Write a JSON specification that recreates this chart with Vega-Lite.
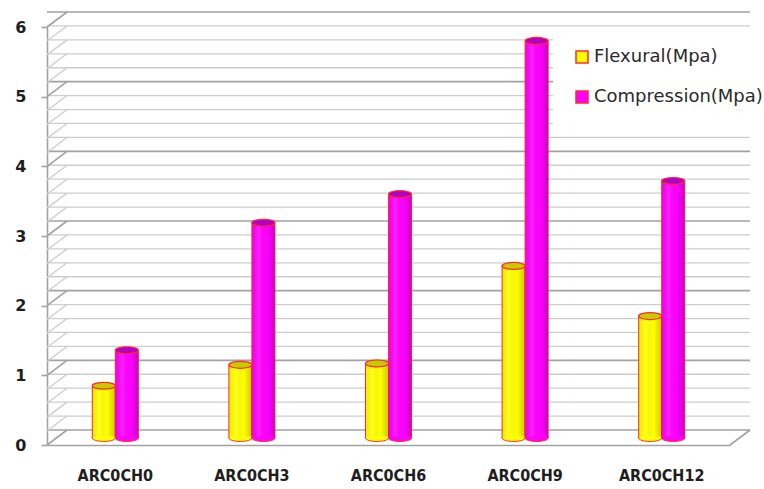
{
  "$schema": "https://vega.github.io/schema/vega-lite/v6.json",
  "width": 683,
  "height": 418,
  "autosize": {"type": "none"},
  "padding": {"left": 47, "top": 27, "right": 34, "bottom": 44},
  "background": "white",
  "config": {"view": {"stroke": null}, "font": "DejaVu Sans"},
  "datasets": {
    "strength": [
      {"sample": "ARC0CH0", "series": "Flexural(Mpa)", "value": 0.75},
      {"sample": "ARC0CH0", "series": "Compression(Mpa)", "value": 1.26},
      {"sample": "ARC0CH3", "series": "Flexural(Mpa)", "value": 1.05},
      {"sample": "ARC0CH3", "series": "Compression(Mpa)", "value": 3.09},
      {"sample": "ARC0CH6", "series": "Flexural(Mpa)", "value": 1.07},
      {"sample": "ARC0CH6", "series": "Compression(Mpa)", "value": 3.5},
      {"sample": "ARC0CH9", "series": "Flexural(Mpa)", "value": 2.47},
      {"sample": "ARC0CH9", "series": "Compression(Mpa)", "value": 5.7},
      {"sample": "ARC0CH12", "series": "Flexural(Mpa)", "value": 1.75},
      {"sample": "ARC0CH12", "series": "Compression(Mpa)", "value": 3.69}
    ],
    "grid": [
      {"v": 0}, {"v": 0.2}, {"v": 0.4}, {"v": 0.6}, {"v": 0.8},
      {"v": 1}, {"v": 1.2}, {"v": 1.4}, {"v": 1.6}, {"v": 1.8},
      {"v": 2}, {"v": 2.2}, {"v": 2.4}, {"v": 2.6}, {"v": 2.8},
      {"v": 3}, {"v": 3.2}, {"v": 3.4}, {"v": 3.6}, {"v": 3.8},
      {"v": 4}, {"v": 4.2}, {"v": 4.4}, {"v": 4.6}, {"v": 4.8},
      {"v": 5}, {"v": 5.2}, {"v": 5.4}, {"v": 5.6}, {"v": 5.8},
      {"v": 6}
    ],
    "floor": [{"v": 0}]
  },
  "layer": [
    {
      "description": "back wall gridlines, pushed back in depth; carries the value axis",
      "data": {"name": "grid"},
      "mark": {"type": "rule", "xOffset": 20, "x2Offset": 20, "yOffset": -15},
      "encoding": {
        "y": {
          "field": "v", "type": "quantitative",
          "scale": {"domain": [0, 6], "nice": false},
          "axis": {
            "title": null, "values": [0, 1, 2, 3, 4, 5, 6], "format": "d", "grid": false,
            "labelFontWeight": "bold", "labelFontSize": 16, "labelColor": "#1e1e1e",
            "labelPadding": 15, "tickSize": 6, "tickColor": "#a2a2a2", "tickWidth": 1.6,
            "domainColor": "#a2a2a2", "domainWidth": 1.6
          }
        },
        "color": {"condition": {"test": "datum.v % 1 === 0", "value": "#a2a2a2"}, "value": "#cdcdcd"},
        "strokeWidth": {"condition": {"test": "datum.v % 1 === 0", "value": 1.6}, "value": 1.3}
      }
    },
    {
      "description": "side wall: short diagonals from the front axis to the back wall",
      "data": {"name": "grid"},
      "mark": {"type": "rule", "x2Offset": 20, "y2Offset": -15},
      "encoding": {
        "x": {"value": 0},
        "x2": {"value": 0},
        "y": {"field": "v", "type": "quantitative"},
        "y2": {"field": "v"},
        "color": {"condition": {"test": "datum.v % 1 === 0", "value": "#a2a2a2"}, "value": "#cdcdcd"},
        "strokeWidth": {"condition": {"test": "datum.v % 1 === 0", "value": 1.6}, "value": 1.3}
      }
    },
    {
      "description": "right edge of the floor",
      "data": {"name": "floor"},
      "mark": {"type": "rule", "x2Offset": 20, "y2Offset": -15, "color": "#a2a2a2", "strokeWidth": 1.6},
      "encoding": {
        "x": {"value": {"expr": "width"}},
        "x2": {"value": {"expr": "width"}},
        "y": {"field": "v", "type": "quantitative"},
        "y2": {"field": "v"}
      }
    },
    {
      "description": "cylinder bodies",
      "data": {"name": "strength"},
      "mark": {"type": "bar", "yOffset": -7, "y2Offset": -7, "stroke": "#ff2a2a", "strokeWidth": 1},
      "encoding": {
        "x": {
          "field": "sample", "type": "nominal",
          "sort": ["ARC0CH0", "ARC0CH3", "ARC0CH6", "ARC0CH9", "ARC0CH12"],
          "scale": {"paddingInner": 0.663, "paddingOuter": 0.3315},
          "axis": {
            "title": null, "labelAngle": 0, "ticks": false,
            "labelFont": "DejaVu Sans Condensed, DejaVu Sans", "labelFontWeight": "bold",
            "labelFontSize": 16, "labelColor": "#1e1e1e", "labelPadding": 22,
            "domainColor": "#a2a2a2", "domainWidth": 1.6
          }
        },
        "xOffset": {"field": "series", "type": "nominal", "sort": ["Flexural(Mpa)", "Compression(Mpa)"]},
        "y": {"field": "value", "type": "quantitative"},
        "color": {
          "field": "series", "type": "nominal",
          "scale": {"domain": ["Flexural(Mpa)", "Compression(Mpa)"], "range": ["#ffff00", "#ff00ff"]},
          "legend": {
            "title": null, "orient": "none", "legendX": 506, "legendY": 1,
            "padding": 20, "fillColor": "white", "strokeColor": null,
            "symbolType": "square", "symbolSize": 144, "symbolStrokeColor": "#ff2020",
            "symbolStrokeWidth": 1.5, "symbolOpacity": 1,
            "labelFontSize": 18, "labelColor": "#2a2a2a", "labelOffset": 3,
            "rowPadding": 22, "labelLimit": 300
          }
        }
      }
    },
    {
      "description": "soft shading across each cylinder body",
      "data": {"name": "strength"},
      "mark": {
        "type": "bar", "yOffset": -7, "y2Offset": -7,
        "fill": {
          "gradient": "linear", "x1": 0, "y1": 0, "x2": 1, "y2": 0,
          "stops": [
            {"offset": 0, "color": "rgba(0,0,0,0.06)"},
            {"offset": 0.3, "color": "rgba(255,255,255,0.12)"},
            {"offset": 0.65, "color": "rgba(0,0,0,0)"},
            {"offset": 1, "color": "rgba(60,0,40,0.22)"}
          ]
        }
      },
      "encoding": {
        "x": {"field": "sample", "type": "nominal", "sort": ["ARC0CH0", "ARC0CH3", "ARC0CH6", "ARC0CH9", "ARC0CH12"]},
        "xOffset": {"field": "series", "type": "nominal", "sort": ["Flexural(Mpa)", "Compression(Mpa)"]},
        "y": {"field": "value", "type": "quantitative"}
      }
    },
    {
      "description": "rounded cylinder bases",
      "data": {"name": "strength"},
      "mark": {
        "type": "point", "filled": true, "opacity": 1, "yOffset": -7,
        "shape": "M -1 -0.12 L -1 0 A 1 0.3 0 0 0 1 0 L 1 -0.12",
        "size": 529, "stroke": "#ff2a2a", "strokeWidth": 1
      },
      "encoding": {
        "x": {"field": "sample", "type": "nominal", "sort": ["ARC0CH0", "ARC0CH3", "ARC0CH6", "ARC0CH9", "ARC0CH12"]},
        "xOffset": {"field": "series", "type": "nominal", "sort": ["Flexural(Mpa)", "Compression(Mpa)"]},
        "y": {"datum": 0, "type": "quantitative"},
        "color": {"field": "series", "type": "nominal"}
      }
    },
    {
      "description": "cylinder tops",
      "data": {"name": "strength"},
      "mark": {
        "type": "point", "filled": true, "opacity": 1, "yOffset": -7,
        "shape": "M -1 0 A 1 0.3 0 1 1 1 0 A 1 0.3 0 1 1 -1 0 Z",
        "size": 529, "stroke": "#ff2a2a", "strokeWidth": 1.2
      },
      "encoding": {
        "x": {"field": "sample", "type": "nominal", "sort": ["ARC0CH0", "ARC0CH3", "ARC0CH6", "ARC0CH9", "ARC0CH12"]},
        "xOffset": {"field": "series", "type": "nominal", "sort": ["Flexural(Mpa)", "Compression(Mpa)"]},
        "y": {"field": "value", "type": "quantitative"},
        "fill": {
          "field": "series", "type": "nominal", "legend": null,
          "scale": {"domain": ["Flexural(Mpa)", "Compression(Mpa)"], "range": ["#c9c900", "#b000c8"]}
        }
      }
    }
  ]
}
